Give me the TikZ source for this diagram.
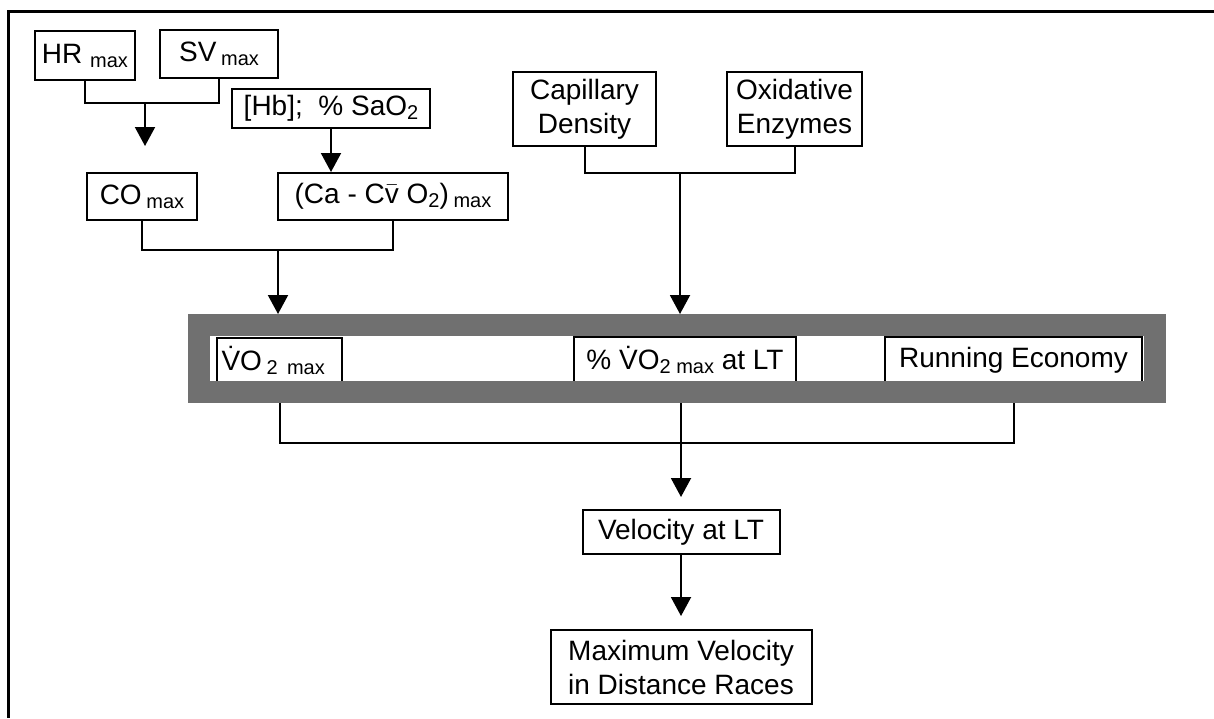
\documentclass[tikz,border=0pt]{standalone}
\usepackage{fontspec}
\setmainfont{Liberation Sans}
\usetikzlibrary{arrows.meta,positioning}

\definecolor{bandgray}{RGB}{112,112,112}
\newcommand{\lowsub}[1]{\raisebox{-2pt}{\fontsize{10}{12}\selectfont #1}}
\newcommand{\vdotV}{\.{V}}
\newcommand{\vbar}{\ensuremath{\bar{\hbox{v}}}}

\begin{document}
\begin{tikzpicture}[
    x=0.5pt, y=-0.5pt,
    box/.style={draw, rectangle, line width=1pt, inner sep=0pt, align=center, font=\fontsize{14}{17}\selectfont},
    link/.style={line width=1pt},
    arrow/.style={-{Triangle[length=9.5pt, width=10pt]}, line width=1pt},
    band/.style={draw=bandgray, rectangle, line width=11pt, inner sep=0pt}
]
\useasboundingbox (0,0) rectangle (1214,718);

% Frame
\draw[line width=1.5pt] (1214,11) -- (8,11) -- (8,718);

% Central factors
\node[box, minimum width=50pt, minimum height=24.5pt] (hr) at (85,55.5) {HR \lowsub{max}};
\node[box, minimum width=59pt, minimum height=24pt] (sv) at (219,54) {SV\,\lowsub{max}};
\node[box, minimum width=99pt, minimum height=19.5pt] (hb) at (331,108.5) {[Hb];\ \ \% SaO\lowsub{2}};
\node[box, minimum width=55pt, minimum height=23.5pt] (co) at (142,196.5) {CO\,\lowsub{max}};
\node[box, minimum width=115pt, minimum height=23.5pt] (cav) at (393,196.5) {(Ca - C\vbar\ O\lowsub{2})\,\lowsub{max}};

% Peripheral factors
\node[box, minimum width=71.5pt, minimum height=37pt] (cap) at (584.5,109) {Capillary\\Density};
\node[box, minimum width=67.5pt, minimum height=37pt] (ox) at (794.5,109) {Oxidative\\Enzymes};

% Determinants inside the band
\node[box, minimum width=62.5pt, minimum height=22.5pt, text width=58pt, align=left] (vo2) at (279.5,360.5) {\vdotV O\,\lowsub{2 max}};
\node[box, minimum width=111pt, minimum height=23pt] (pct) at (685,360) {\% \vdotV O\lowsub{2 max} at LT};
\node[box, minimum width=128.5pt, minimum height=23pt] (re) at (1013.5,360) {Running Economy};
\node[band, minimum width=478pt, minimum height=33.5pt] (band) at (677,358.5) {};

% Performance
\node[box, minimum width=98.5pt, minimum height=22pt] (vel) at (681,532) {Velocity at LT};
\node[box, minimum width=130.5pt, minimum height=37pt] (maxv) at (681,667) {Maximum Velocity\\in Distance Races};

% Connectors
\coordinate (hrsv) at (145,103);
\draw[link] (hr.south) |- (hrsv) -| (sv.south);
\draw[arrow, shorten >=13pt] (hrsv) -- (hrsv |- co.north);
\draw[arrow] (hb.south) -- (hb.south |- cav.north);

\coordinate (cocav) at (278,250);
\draw[link] (co.south) |- (cocav) -| (cav.south);
\draw[arrow] (cocav) -- (cocav |- band.north);

\coordinate (capox) at (680,173);
\draw[link] (cap.south) |- (capox) -| (ox.south);
\draw[arrow] (capox) -- (capox |- band.north);

\coordinate (outj) at (681,443);
\draw[link] (vo2.south |- band.south) |- (outj) -| (re.south |- band.south);
\draw[arrow, shorten >=6pt] (outj |- band.south) -- (outj |- vel.north);
\draw[arrow, shorten >=6.5pt] (vel.south) -- (vel.south |- maxv.north);

\end{tikzpicture}
\end{document}
